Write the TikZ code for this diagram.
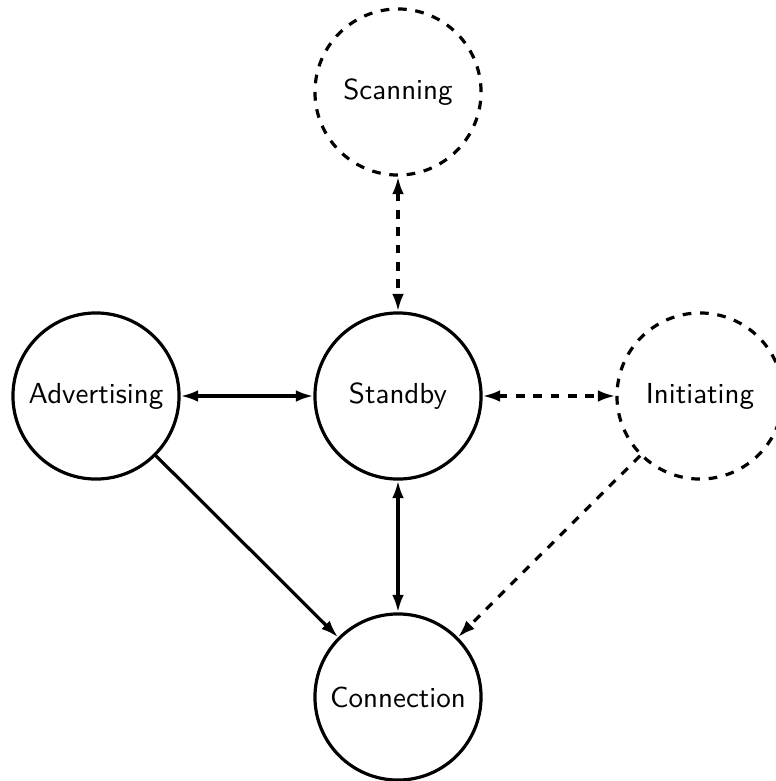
\documentclass[tikz,border=0pt]{standalone}
\usetikzlibrary{arrows.meta}
\begin{document}
\begin{tikzpicture}[x=0.345pt,y=-0.345pt,
  state/.style={circle,draw,line width=1.1pt,minimum size=57.3pt,inner sep=0pt,font=\sffamily},
  dstate/.style={state,dashed},
  conn/.style={line width=1.1pt,{Latex[length=6pt,width=4pt]}-{Latex[length=6pt,width=4pt]}},
  oneway/.style={line width=1.1pt,-{Latex[length=6pt,width=4pt]}}]
\useasboundingbox (0,0) rectangle (776,781);
\node[dstate] (scan) at (398,92) {Scanning};
\node[state] (stand) at (398,396) {Standby};
\node[state] (adv) at (96,396) {Advertising};
\node[dstate] (init) at (700,396) {Initiating};
\node[state] (conn) at (398,697) {Connection};
\draw[conn,dashed] (scan) -- (stand);
\draw[conn] (adv) -- (stand);
\draw[conn,dashed] (stand) -- (init);
\draw[conn] (stand) -- (conn);
\draw[oneway] (adv) -- (conn);
\draw[oneway,dashed] (init) -- (conn);
\end{tikzpicture}
\end{document}
